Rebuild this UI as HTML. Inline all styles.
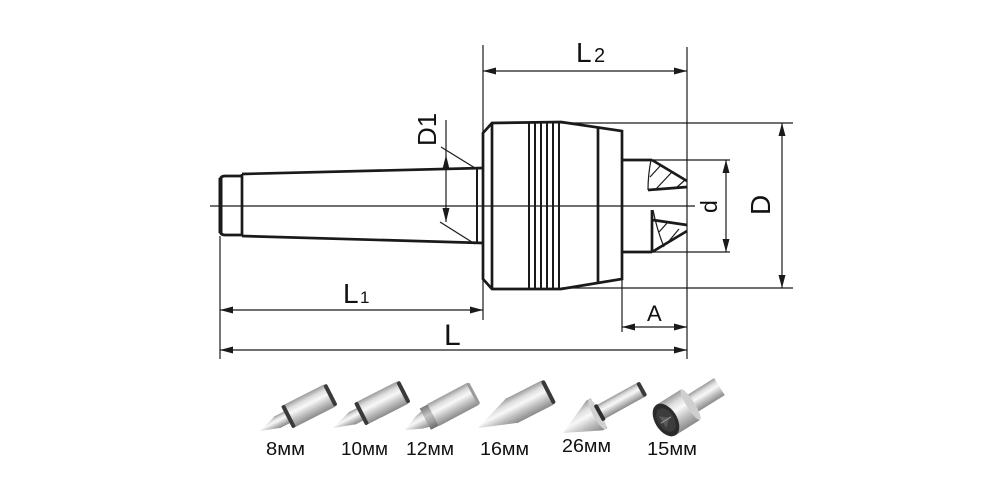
<!DOCTYPE html>
<html><head><meta charset="utf-8"><style>
html,body{margin:0;padding:0;background:#fff;}
svg{display:block;}
text{font-family:"Liberation Sans",sans-serif;fill:#111;}
</style></head><body>
<svg width="1000" height="500" viewBox="0 0 1000 500" xmlns="http://www.w3.org/2000/svg">
<defs>
<linearGradient id="m" x1="0" y1="0" x2="0" y2="1">
<stop offset="0" stop-color="#9a9a9a"/><stop offset="0.22" stop-color="#dedede"/><stop offset="0.42" stop-color="#f8f8f8"/><stop offset="0.68" stop-color="#c4c4c4"/><stop offset="1" stop-color="#8a8a8a"/>
</linearGradient>
<linearGradient id="md" x1="0" y1="0" x2="0" y2="1">
<stop offset="0" stop-color="#7a7a7a"/><stop offset="0.4" stop-color="#c4c4c4"/><stop offset="0.7" stop-color="#a0a0a0"/><stop offset="1" stop-color="#6a6a6a"/>
</linearGradient>
</defs>
<rect width="1000" height="500" fill="#fff"/>

<!-- thin lines -->
<g stroke="#1a1a1a" stroke-width="1.2" fill="none">
<line x1="210" y1="206" x2="695" y2="206"/>
<line x1="220" y1="236" x2="220" y2="359"/>
<line x1="687" y1="47" x2="687" y2="359"/>
<line x1="483" y1="45" x2="483" y2="320"/>
<line x1="622" y1="279" x2="622" y2="332"/>
<line x1="561" y1="123" x2="793" y2="123"/>
<line x1="561" y1="288" x2="793" y2="288"/>
<line x1="652" y1="160" x2="730" y2="160"/>
<line x1="652" y1="252" x2="730" y2="252"/>
<line x1="483" y1="71" x2="687" y2="71"/>
<line x1="220" y1="310" x2="483" y2="310"/>
<line x1="220" y1="350" x2="687" y2="350"/>
<line x1="622" y1="327" x2="687" y2="327"/>
<line x1="782" y1="123" x2="782" y2="288"/>
<line x1="726" y1="160" x2="726" y2="252"/>
<line x1="446" y1="120" x2="446" y2="222"/>
<line x1="441" y1="147" x2="475" y2="168"/>
<line x1="440" y1="222" x2="475" y2="244"/>
<path d="M651,160 Q648,175 648,190"/>
<path d="M653,210 Q657,230 664,247"/>
<line x1="650" y1="177" x2="661" y2="165"/>
<line x1="656" y1="189" x2="672" y2="172"/>
<line x1="676" y1="188" x2="685" y2="180"/>
<line x1="659" y1="232" x2="668" y2="222"/>
<line x1="669" y1="241" x2="679" y2="229"/>
</g>

<!-- arrowheads -->
<g fill="#1a1a1a">
<polygon points="483,71 496,67.5 496,74.5"/><polygon points="687,71 674,67.5 674,74.5"/>
<polygon points="220,310 233,306.5 233,313.5"/><polygon points="483,310 470,306.5 470,313.5"/>
<polygon points="220,350 233,346.5 233,353.5"/><polygon points="687,350 674,346.5 674,353.5"/>
<polygon points="622,327 635,323.5 635,330.5"/><polygon points="687,327 674,323.5 674,330.5"/>
<polygon points="782,123 778.5,136 785.5,136"/><polygon points="782,288 778.5,275 785.5,275"/>
<polygon points="726,160 722.5,173 729.5,173"/><polygon points="726,252 722.5,239 729.5,239"/>
<polygon points="446,155 442.5,169 449.5,169"/><polygon points="446,222 442.5,208 449.5,208"/>
</g>

<!-- thick outlines -->
<g stroke="#1a1a1a" stroke-width="2.7" fill="none" stroke-linejoin="miter">
<path d="M242,176 L225,176 Q220,176 220,181 L220,230 Q220,235 225,235 L242,235"/>
<line x1="242" y1="174" x2="242" y2="236"/>
<line x1="242" y1="174" x2="483" y2="168"/>
<line x1="242" y1="236" x2="483" y2="243"/>
<line x1="477" y1="168" x2="477" y2="243" stroke-width="2"/>
<polygon points="483,133 492,123 561,122 622,131 622,279 561,289 492,289 483,279"/>
<line x1="492" y1="123" x2="492" y2="289"/>
<line x1="598" y1="128" x2="598" y2="284"/>
<line x1="622" y1="160" x2="652" y2="160"/>
<line x1="622" y1="252" x2="652" y2="252"/>
<line x1="652" y1="160" x2="687" y2="181"/>
<line x1="648" y1="190" x2="687" y2="187"/>
<line x1="652" y1="210" x2="652" y2="252"/>
<line x1="653" y1="220" x2="687" y2="225"/>
<line x1="652" y1="252" x2="687" y2="231"/>
</g>
<line x1="220.5" y1="178" x2="220.5" y2="233" stroke="#1a1a1a" stroke-width="4"/>
<g stroke="#1a1a1a" stroke-width="2">
<line x1="529" y1="122" x2="529" y2="289"/><line x1="535" y1="122" x2="535" y2="289"/>
<line x1="541" y1="122" x2="541" y2="289"/><line x1="547" y1="122" x2="547" y2="289"/>
<line x1="553" y1="122" x2="553" y2="289"/><line x1="559" y1="122" x2="559" y2="289"/>
</g>

<!-- dimension labels -->
<text x="576" y="62" font-size="28">L</text><text x="594" y="62" font-size="20">2</text>
<text x="343" y="303" font-size="28">L</text><text x="360" y="303" font-size="17">1</text>
<text x="444" y="345" font-size="30">L</text>
<text x="647" y="321" font-size="22">A</text>
<text transform="translate(436,146) rotate(-90)" font-size="26">D1</text>
<text transform="translate(770,215) rotate(-90)" font-size="28">D</text>
<text transform="translate(717,213) rotate(-90)" font-size="23">d</text>

<!-- tips photos -->
<g transform="translate(260,431) rotate(-27)">
<polygon points="0,0 20,-6.5 20,6.5" fill="url(#m)"/>
<rect x="19" y="-6.5" width="12" height="13" fill="url(#m)"/>
<rect x="33" y="-12.5" width="45" height="25" fill="url(#m)"/>
<rect x="30" y="-12.5" width="4" height="25" rx="1.5" fill="#3a3a3a"/>
<rect x="77" y="-12" width="4" height="24" rx="2" fill="#3a3a3a"/>
</g>
<g transform="translate(333,428) rotate(-27)">
<polygon points="0,0 22,-7 22,7" fill="url(#m)"/>
<rect x="21" y="-7" width="11" height="14" fill="url(#m)"/>
<rect x="33" y="-12.5" width="45" height="25" fill="url(#m)"/>
<rect x="30" y="-12.5" width="4" height="25" rx="1.5" fill="#3a3a3a"/>
<rect x="77" y="-12" width="4" height="24" rx="2" fill="#3a3a3a"/>
</g>
<g transform="translate(405,430) rotate(-28)">
<polygon points="0,0 16,-7 24,-9 24,9 16,7" fill="url(#m)"/>
<rect x="23" y="-12" width="9" height="24" fill="url(#md)"/>
<rect x="32" y="-12.5" width="45" height="25" fill="url(#m)"/>
<rect x="76" y="-12" width="3" height="24" rx="1.5" fill="#9a9a9a"/>
</g>
<g transform="translate(478,428) rotate(-27)">
<polygon points="0,0 38,-13.5 38,13.5" fill="url(#m)"/>
<rect x="37" y="-13.5" width="41" height="27" fill="url(#m)"/>
<rect x="77" y="-13" width="4" height="26" rx="2" fill="#3a3a3a"/>
</g>
<g transform="translate(563,433) rotate(-29)">
<polygon points="0,0 36,-17 41,-17 41,17 36,17" fill="url(#m)"/>
<ellipse cx="39" cy="0" rx="4" ry="17" fill="#d0d0d0"/>
<rect x="43" y="-8" width="46" height="16" fill="url(#m)"/>
<rect x="40" y="-9" width="4" height="18" rx="1.5" fill="#2f2f2f"/>
<rect x="88" y="-8" width="4" height="16" rx="2" fill="#3a3a3a"/>
</g>
<g transform="translate(666,420) rotate(-32)">
<rect x="27" y="-10" width="36" height="20" fill="url(#m)"/>
<rect x="0" y="-18" width="29" height="36" fill="url(#m)"/>
<ellipse cx="29" cy="0" rx="4" ry="18" fill="#cfcfcf"/>
<ellipse cx="0" cy="0" rx="11" ry="18" fill="#2b2b2b"/>
<ellipse cx="0" cy="0" rx="8" ry="13" fill="#3c3c3c"/>
<polygon points="-4,-7 4,0 -4,7" fill="#5a5a5a"/>
<line x1="-6" y1="0" x2="6" y2="0" stroke="#999" stroke-width="1"/>
</g>

<!-- tip labels -->
<g font-size="18">
<text x="266" y="455" textLength="39" lengthAdjust="spacingAndGlyphs">8мм</text>
<text x="341" y="455" textLength="47" lengthAdjust="spacingAndGlyphs">10мм</text>
<text x="406" y="455" textLength="48" lengthAdjust="spacingAndGlyphs">12мм</text>
<text x="480" y="455" textLength="49" lengthAdjust="spacingAndGlyphs">16мм</text>
<text x="562" y="452" textLength="49" lengthAdjust="spacingAndGlyphs">26мм</text>
<text x="647" y="455" textLength="50" lengthAdjust="spacingAndGlyphs">15мм</text>
</g>
</svg>
</body></html>
